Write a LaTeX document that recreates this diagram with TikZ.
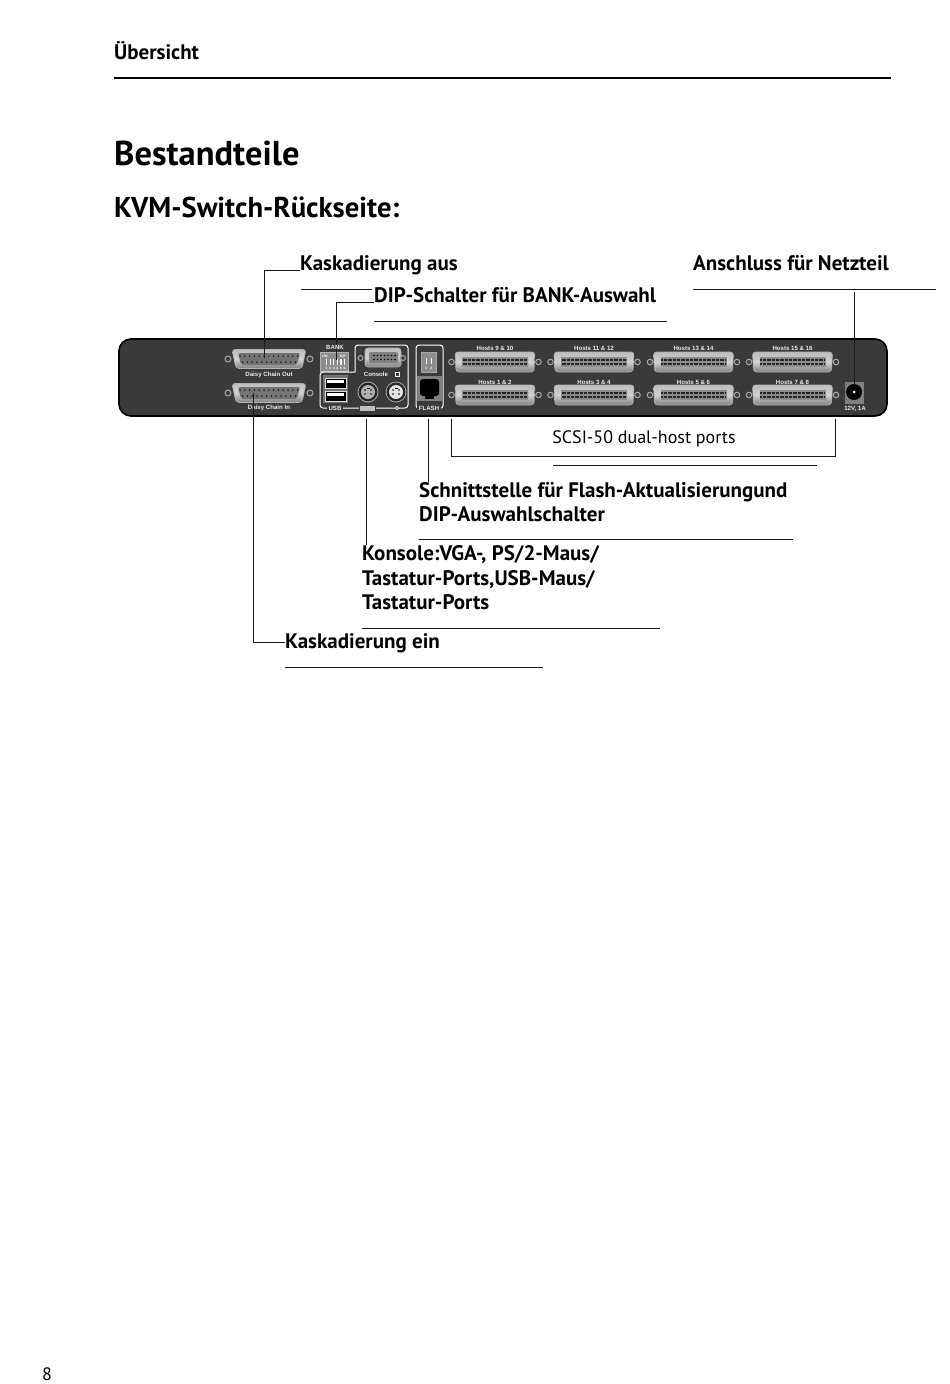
\documentclass[tikz,border=0pt]{standalone}
\usepackage{fontspec}
\setmainfont{PT Sans}
\newfontfamily\panelfont{Liberation Sans}
\usetikzlibrary{calc}
\definecolor{panelgray}{HTML}{3B3A3A}
\definecolor{shellgray}{HTML}{BDBDBD}
\tikzset{
  rulethin/.style={black!90, line width=1pt},
  rulehead/.style={black, line width=1.1pt},
  lead/.style={black!90, line width=1pt},
  panel/.style={fill=panelgray, draw=black, line width=1.6pt, rounded corners=12pt},
  frameline/.style={white, line width=1pt, rounded corners=3pt},
  shell/.style={top color=shellgray, bottom color=black!50, middle color=black!18, draw=white!70!black, line width=0.6pt},
  screw/.style={draw=white!65!black, line width=1pt, fill=black!75},
  panellabel/.style={font=\panelfont\bfseries\fontsize{6.1}{7}\selectfont, text=white!92!black, inner sep=0pt},
  tinylabel/.style={font=\panelfont\bfseries\fontsize{3.4}{4}\selectfont, text=white, inner sep=0pt},
  callout/.style={font=\bfseries\fontsize{21}{24.5}\selectfont, anchor=base west, align=left, inner sep=0pt},
  calloutblock/.style={font=\bfseries\fontsize{21}{24.5}\selectfont, anchor=south west, align=left, inner sep=0pt},
  % DB-25 connector, anchored at its centre
  dbport/.pic={
    \draw[screw] (-41,0) circle (3);
    \draw[screw] (41,0) circle (3);
    \draw[shell, rounded corners=3pt] (-37,-9.5) -- (37,-9.5) -- (33,9.5) -- (-33,9.5) -- cycle;
    \fill[black!55, rounded corners=2pt] (-31,-6) -- (31,-6) -- (28,6) -- (-28,6) -- cycle;
    \foreach \i in {0,...,12} \fill[black] (-29+\i*4.8,-3) circle (0.75);
    \foreach \i in {0,...,11} \fill[black] (-26.4+\i*4.8,3) circle (0.75);
  },
  % SCSI-50 connector, anchored at its centre
  scsiport/.pic={
    \draw[screw] (-43.5,0) circle (2.8);
    \draw[screw] (43.5,0) circle (2.8);
    \draw[shell, rounded corners=3pt] (-40,-10) -- (40,-10) -- (39,10) -- (-39,10) -- cycle;
    \fill[black!45] (-33,-5) rectangle (33,5);
    \draw[black!85, line width=2pt, dash pattern=on 0.8pt off 0.5pt] (-32.5,-2.3) -- (32.5,-2.3);
    \draw[black!85, line width=2pt, dash pattern=on 0.8pt off 0.5pt] (-32.5,2.3) -- (32.5,2.3);
  },
}
\begin{document}
\begin{tikzpicture}[x=1pt, y=-1pt]
  \useasboundingbox (0,0) rectangle (950,1384);
  % page head
  \node[font=\bfseries\fontsize{21}{24}\selectfont, anchor=base west, inner sep=0pt] (section) at (114,59) {Übersicht};
  \draw[rulehead] (114,78) -- (891,78);
  \node[font=\bfseries\fontsize{34.5}{40}\selectfont, anchor=base west, inner sep=0pt] (title) at (114,165) {Bestandteile};
  \node[font=\bfseries\fontsize{28.7}{30}\selectfont, anchor=base west, inner sep=0pt] (subtitle) at (114,217) {KVM-Switch-Rückseite:};
  \node[font=\fontsize{18}{20}\selectfont, anchor=base west, inner sep=0pt] (pagenum) at (42,1380) {8};

  % switch back panel
  \draw[panel] (119,339) rectangle (887,416);
  \pic at (269,359) {dbport};
  \pic at (269,393) {dbport};
  \coordinate (dbout) at (264,358);
  \coordinate (dbin) at (253,393);
  \node[panellabel] (dboutlabel) at (269,374.5) {Daisy Chain Out};
  \node[panellabel] (dbinlabel) at (269,408) {Daisy Chain In};

  % dip switch, console block
  \draw[fill=black!45, draw=white!70!black, line width=0.6pt] (320,352) rectangle (348,371);
  \node[tinylabel] (onlabel) at (325,356) {ON};
  \node[tinylabel] (diplabel) at (343,356) {DIP};
  \foreach \i in {1,...,6} {
    \draw[white, line width=1.1pt] (323+\i*3.6,359) -- (323+\i*3.6,365);
    \node[tinylabel] at (323+\i*3.6,368) {\i};
  }
  \draw[frameline] (355,372) -- (355,345) -- (408,345) -- (408,408) -- (320,408) -- (320,372) -- (355,372);
  \draw[shell, rounded corners=3pt] (365,348) rectangle (401,367);
  \fill[black!50, rounded corners=2pt] (369,352) rectangle (398,363);
  \foreach \i in {0,...,6} \fill[black] (374+\i*3.5,355.5) circle (0.8);
  \foreach \i in {0,...,6} \fill[black] (374+\i*3.5,359.5) circle (0.8);
  \draw[screw] (360.5,358) circle (2.5);
  \draw[screw] (403,358) circle (2.5);
  \node[panellabel] (consolelabel) at (376,374.5) {Console};
  \draw[white, line width=0.9pt] (395,372.5) rectangle (399.5,376.5);
  \fill[black!55] (323,375) rectangle (348,403);
  \foreach \y in {378,391} {
    \draw[fill=black, draw=white!85!black, line width=0.6pt] (325,\y) rectangle (346,\y+10);
    \fill[white] (327,\y+2) rectangle (344,\y+5);
  }
  \foreach \x/\c in {368/black!30, 396/black!10} {
    \draw[fill=black!85, draw=white!60!black, line width=1pt] (\x,392) circle (10);
    \fill[\c] (\x,392) circle (7);
    \fill[black] (\x-3,390) circle (0.9);
    \fill[black] (\x+3,390) circle (0.9);
    \fill[black] (\x-3,394) circle (0.9);
    \fill[black] (\x+3,394) circle (0.9);
    \fill[black] (\x-1.5,387.5) rectangle (\x+1.5,389);
  }
  \node[panellabel, fill=panelgray, inner xsep=1.5pt] (usblabel) at (335,408) {USB};
  \node[fill=white!75!black, draw=panelgray, line width=1pt, minimum width=16pt, minimum height=6pt, inner sep=0pt] (kbdicon) at (367,408) {};
  \node[fill=panelgray, inner sep=1.2pt, draw=white, circle, line width=0.7pt] (mouseicon) at (397,408) {};

  % flash block
  \draw[frameline] (416,408.5) -- (416,345) -- (443,345) -- (443,408.5) -- cycle;
  \draw[fill=black!45, draw=white!65!black, line width=0.6pt] (421,352) rectangle (436,372);
  \foreach \x/\n in {426/1,431/2} {
    \draw[white, line width=1pt] (\x,358) -- (\x,364);
    \node[tinylabel] at (\x,368) {\n};
  }
  \fill[black!50] (417,376) rectangle (442,401);
  \fill[black, rounded corners=3pt] (420,379) rectangle (439,396);
  \fill[black] (425,396) rectangle (434,399);
  \node[panellabel, fill=panelgray, inner xsep=1.5pt] (flashlabel) at (429,408) {FLASH};

  % scsi ports
  \foreach \x/\top/\bot in {495/9 \& 10/1 \& 2, 594/11 \& 12/3 \& 4, 693.5/13 \& 14/5 \& 6, 792.5/15 \& 16/7 \& 8} {
    \pic at (\x,362) {scsiport};
    \pic at (\x,395) {scsiport};
    \node[panellabel] at (\x,348.5) {Hosts \top};
    \node[panellabel] at (\x,382) {Hosts \bot};
  }

  % power jack
  \fill[black!50] (845,382) rectangle (864,404);
  \fill[black] (854,392) circle (8);
  \fill[white] (854,392) circle (1.5);
  \node[panellabel] (powerlabel) at (855,408.5) {12V, 1A};
  \coordinate (powerjack) at (854,386);
  \coordinate (dipswitch) at (336,360);
  \coordinate (consoleport) at (366,419);
  \coordinate (flashport) at (428,419);
  \coordinate (hostsleft) at (451,419);
  \coordinate (hostsright) at (835,419);
  \coordinate (hostsbar) at (451,456);
  \coordinate (powertop) at (854,292);

  % callouts
  \node[callout] (cascout) at (300,270.5) {Kaskadierung aus};
  \node[callout] (dipsel) at (374,302) {DIP-Schalter für BANK-Auswahl};
  \node[callout] (powerin) at (693,270.5) {Anschluss für Netzteil};
  \node[font=\fontsize{18}{20}\selectfont, inner sep=0pt] (scsi) at (644,439) {SCSI-50 dual-host ports};
  \node[calloutblock] (flashif) at (419,522) {Schnittstelle für Flash-Aktualisierungund\\DIP-Auswahlschalter};
  \node[calloutblock] (console) at (362,610) {Konsole:VGA-, PS/2-Maus/\\Tastatur-Ports,USB-Maus/\\Tastatur-Ports};
  \node[callout] (cascin) at (285,648) {Kaskadierung ein};

  \draw[rulethin] (301,289) -- (372,289);
  \draw[rulethin] (374,321) -- (667,321);
  \draw[rulethin] (693,289) -- (936,289);
  \draw[rulethin] (553,465) -- (817,465);
  \draw[rulethin] (419,539) -- (793,539);
  \draw[rulethin] (362,628) -- (660,628);
  \draw[rulethin] (285,667) -- (543,667);

  \draw[lead] (cascout.base west) -| (dbout);
  \draw[lead] (dipsel.base west) -| (dipswitch);
  \draw[lead] (powerjack) -- (powertop);
  \draw[lead] (hostsleft) -- (hostsbar) -| (hostsright);
  \draw[lead] (flashport) -- (flashport |- flashif.north);
  \draw[lead] (consoleport) -- (consoleport |- console.north);
  \draw[lead] (cascin.west) -| (dbin);
  % label sits over the leader
  \node[panellabel, fill=panelgray, inner ysep=0.5pt] (banklabel) at (335,347.5) {BANK};
\end{tikzpicture}
\end{document}
